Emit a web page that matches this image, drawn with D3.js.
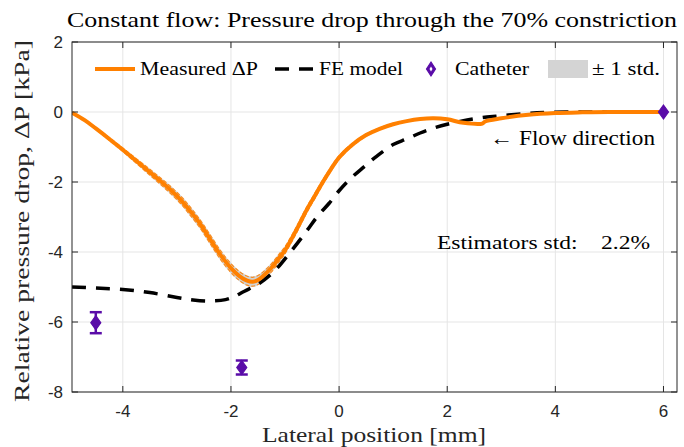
<!DOCTYPE html>
<html>
<head>
<meta charset="utf-8">
<script src="https://cdn.jsdelivr.net/npm/d3@7"></script>
<style>
  body { margin: 0; background: #fff; }
  svg { display: block; }
  .serif { font-family: "Liberation Serif", "Times New Roman", serif; }
  .sans { font-family: "Liberation Sans", Arial, Helvetica, sans-serif; }
</style>
</head>
<body>
<svg id="chart" width="684" height="447"></svg>
<script>
// ---------- DATA ----------
const measuredX = [-4.94,-4.7,-4.5,-4.25,-4.0,-3.75,-3.5,-3.3,-3.1,-2.9,-2.75,-2.57,-2.4,-2.2,-2.0,-1.85,-1.7,-1.6,-1.5,-1.4,-1.25,-1.1,-1.0,-0.8,-0.6,-0.45,-0.3,-0.15,0.0,0.25,0.5,0.75,1.0,1.25,1.5,1.75,2.0,2.3,2.65,2.7,3.0,3.5,4.0,4.5,5.0,6.0];
const measuredY = [-0.02,-0.24,-0.47,-0.77,-1.08,-1.4,-1.72,-1.98,-2.25,-2.56,-2.84,-3.2,-3.6,-4.07,-4.46,-4.68,-4.82,-4.85,-4.8,-4.68,-4.45,-4.15,-3.95,-3.4,-2.8,-2.4,-2.0,-1.63,-1.3,-0.93,-0.66,-0.48,-0.35,-0.26,-0.2,-0.18,-0.21,-0.31,-0.33,-0.27,-0.18,-0.08,-0.03,-0.01,0.0,0.0];
const measuredStd = [0.01,0.02,0.03,0.05,0.06,0.08,0.1,0.11,0.12,0.13,0.14,0.14,0.15,0.15,0.15,0.15,0.15,0.15,0.15,0.14,0.14,0.13,0.12,0.11,0.1,0.09,0.08,0.07,0.06,0.05,0.04,0.03,0.03,0.02,0.02,0.02,0.02,0.02,0.02,0.02,0.01,0.01,0.01,0.01,0.01,0.01];

const feX = [-4.94,-4.5,-4.0,-3.5,-3.0,-2.7,-2.4,-2.1,-1.95,-1.75,-1.5,-1.2,-0.9,-0.6,-0.4,-0.18,0.0,0.2,0.45,0.7,1.0,1.25,1.5,1.75,2.0,2.3,2.6,2.9,3.5,4.2,5.0,6.0];
const feY = [-5.0,-5.03,-5.07,-5.16,-5.3,-5.37,-5.4,-5.36,-5.28,-5.12,-4.92,-4.55,-4.0,-3.4,-2.98,-2.6,-2.25,-1.92,-1.58,-1.26,-0.93,-0.77,-0.6,-0.46,-0.35,-0.25,-0.17,-0.12,-0.04,0.0,0.0,0.0];

const catheterX = [-4.5, -1.8, 6.0];
const catheterY = [-6.02, -7.3, 0.0];
const catheterErr = [0.3, 0.2, 0.03];

const xTicks = [-4, -2, 0, 2, 4, 6];
const yTicks = [-8, -6, -4, -2, 0, 2];

const titleText = "Constant flow: Pressure drop through the 70% constriction";
const xLabelText = "Lateral position [mm]";
const yLabelText = "Relative pressure drop, \u0394P [kPa]";
const legendLabels = ["Measured \u0394P", "FE model", "Catheter", "\u00B1 1 std."];
const flowText = "\u2190 Flow direction";
const stdText = "Estimators std:\u00A0\u00A0\u00A0\u00A02.2%";

// ---------- LAYOUT ----------
const svg = d3.select("#chart");
const L = 72, R = 677, T = 42, B = 392;
const x = d3.scaleLinear().domain([-4.94, 6.25]).range([L, R]);
const y = d3.scaleLinear().domain([-8, 2]).range([B, T]);

const ORANGE = "#ff8000";
const PURPLE = "#5a0ca8";

// grid
const g = svg.append("g");
g.selectAll(".gx").data(xTicks).enter().append("line")
  .attr("x1", d => x(d)).attr("x2", d => x(d)).attr("y1", T).attr("y2", B)
  .attr("stroke", "#e5e5e5").attr("stroke-width", 1);
g.selectAll(".gy").data(yTicks).enter().append("line")
  .attr("y1", d => y(d)).attr("y2", d => y(d)).attr("x1", L).attr("x2", R)
  .attr("stroke", "#e5e5e5").attr("stroke-width", 1);

// clip
svg.append("clipPath").attr("id", "clip").append("rect")
  .attr("x", L).attr("y", T).attr("width", R - L).attr("height", B - T);
const plot = svg.append("g").attr("clip-path", "url(#clip)");

// std band
const measured = measuredX.map((d, i) => ({x: d, y: measuredY[i], s: measuredStd[i]}));
const area = d3.area().x(d => x(d.x)).y0(d => y(d.y - d.s)).y1(d => y(d.y + d.s)).curve(d3.curveCatmullRom);
plot.append("path").datum(measured).attr("d", area)
  .attr("fill", "#d2d2d2").attr("stroke", "none");
const lineCurve = d3.line().x(d => x(d[0])).y(d => y(d[1])).curve(d3.curveCatmullRom);
[0.85, -0.85].forEach(k => {
  plot.append("path").datum(measured.map(d => [d.x, d.y + d.s * k]))
    .attr("d", lineCurve).attr("fill", "none").attr("stroke", ORANGE)
    .attr("stroke-width", 1.2).attr("stroke-dasharray", "4,2").attr("opacity", 0.85);
});

// FE model dashed
plot.append("path").datum(feX.map((d, i) => [d, feY[i]]))
  .attr("d", lineCurve).attr("fill", "none").attr("stroke", "#000")
  .attr("stroke-width", 3.5).attr("stroke-dasharray", "14,10");

// measured line
plot.append("path").datum(measured.map(d => [d.x, d.y]))
  .attr("d", lineCurve).attr("fill", "none").attr("stroke", ORANGE)
  .attr("stroke-width", 4).attr("stroke-linejoin", "round");

// catheter
const diamond = (cx, cy, w, h) => `M${cx},${cy - h}L${cx + w},${cy}L${cx},${cy + h}L${cx - w},${cy}Z`;
const cath = catheterX.map((d, i) => ({x: d, y: catheterY[i], e: catheterErr[i]}));
const cg = svg.append("g");
cath.forEach(d => {
  const cx = x(d.x);
  if (d.e > 0.05) {
    cg.append("line").attr("x1", cx).attr("x2", cx).attr("y1", y(d.y + d.e)).attr("y2", y(d.y - d.e))
      .attr("stroke", PURPLE).attr("stroke-width", 2.5);
    [d.y + d.e, d.y - d.e].forEach(v => cg.append("line").attr("x1", cx - 6).attr("x2", cx + 6)
      .attr("y1", y(v)).attr("y2", y(v)).attr("stroke", PURPLE).attr("stroke-width", 2.5));
  }
  cg.append("path").attr("d", diamond(cx, y(d.y), 5, 7)).attr("fill", PURPLE).attr("stroke", PURPLE).attr("stroke-width", 1.2);
});

// axes box and ticks
const ax = svg.append("g");
ax.append("rect").attr("x", L).attr("y", T).attr("width", R - L).attr("height", B - T)
  .attr("fill", "none").attr("stroke", "#262626").attr("stroke-width", 1);
xTicks.forEach(t => {
  ax.append("line").attr("x1", x(t)).attr("x2", x(t)).attr("y1", B).attr("y2", B - 6).attr("stroke", "#262626");
  ax.append("line").attr("x1", x(t)).attr("x2", x(t)).attr("y1", T).attr("y2", T + 6).attr("stroke", "#262626");
});
yTicks.forEach(t => {
  ax.append("line").attr("y1", y(t)).attr("y2", y(t)).attr("x1", L).attr("x2", L + 6).attr("stroke", "#262626");
  ax.append("line").attr("y1", y(t)).attr("y2", y(t)).attr("x1", R).attr("x2", R - 6).attr("stroke", "#262626");
});
ax.selectAll(".xt").data(xTicks).enter().append("text").attr("class", "sans")
  .attr("x", d => x(d)).attr("y", B + 25).attr("text-anchor", "middle")
  .attr("font-size", 17).attr("fill", "#262626")
  .text(d => d);
ax.selectAll(".yt").data(yTicks).enter().append("text").attr("class", "sans")
  .attr("x", L - 9).attr("y", d => y(d) + 6).attr("text-anchor", "end")
  .attr("font-size", 17).attr("fill", "#262626")
  .text(d => d);

// title and labels
svg.append("text").attr("class", "serif").attr("x", 372).attr("y", 27).attr("text-anchor", "middle")
  .attr("font-size", 21).attr("fill", "#000")
  .attr("textLength", 610).attr("lengthAdjust", "spacingAndGlyphs").text(titleText);
svg.append("text").attr("class", "serif").attr("x", 374).attr("y", 442).attr("text-anchor", "middle")
  .attr("font-size", 21).attr("fill", "#262626")
  .attr("textLength", 224).attr("lengthAdjust", "spacingAndGlyphs").text(xLabelText);
svg.append("text").attr("class", "serif").attr("transform", "translate(29,221) rotate(-90)").attr("text-anchor", "middle")
  .attr("font-size", 21).attr("fill", "#262626")
  .attr("textLength", 362).attr("lengthAdjust", "spacingAndGlyphs").text(yLabelText);

// legend
const lg = svg.append("g");
const ly = 69;
const legText = (tx, w, s) => lg.append("text").attr("class", "serif").attr("x", tx).attr("y", ly + 6)
  .attr("font-size", 19).attr("textLength", w).attr("lengthAdjust", "spacingAndGlyphs").text(s);
lg.append("line").attr("x1", 95).attr("x2", 135).attr("y1", ly).attr("y2", ly).attr("stroke", ORANGE).attr("stroke-width", 4);
legText(140, 118, legendLabels[0]);
lg.append("line").attr("x1", 275).attr("x2", 315).attr("y1", ly).attr("y2", ly).attr("stroke", "#000").attr("stroke-width", 3.5).attr("stroke-dasharray", "14,10");
legText(319, 84, legendLabels[1]);
lg.append("path").attr("d", diamond(431, ly, 4.5, 7)).attr("fill", PURPLE).attr("stroke", PURPLE).attr("stroke-width", 1.2);
lg.append("path").attr("d", diamond(431, ly, 1.5, 2.5)).attr("fill", "#fff");
legText(455, 74, legendLabels[2]);
lg.append("rect").attr("x", 548).attr("y", ly - 9).attr("width", 40).attr("height", 18).attr("fill", "#d4d4d4");
legText(592, 68, legendLabels[3]);

// annotations
svg.append("text").attr("class", "serif").attr("x", 490).attr("y", 145).attr("font-size", 20)
  .attr("textLength", 165).attr("lengthAdjust", "spacingAndGlyphs").text(flowText);
svg.append("text").attr("class", "serif").attr("x", 437).attr("y", 249).attr("font-size", 19)
  .attr("textLength", 213).attr("lengthAdjust", "spacingAndGlyphs").text(stdText);
</script>
</body>
</html>
